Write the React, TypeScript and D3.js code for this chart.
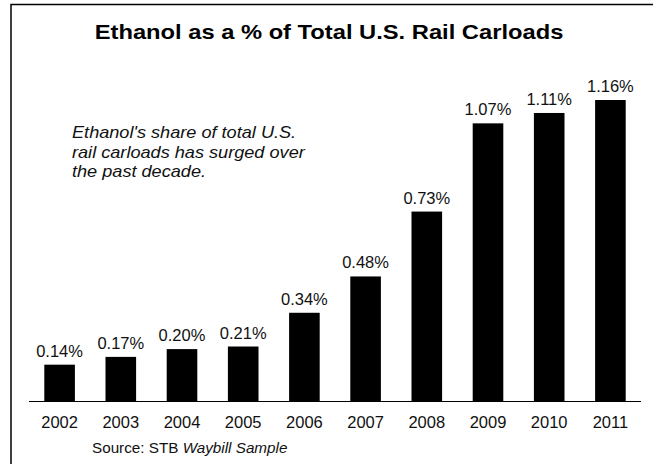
import React from "react";
import * as d3 from "d3";

const years = ["2002", "2003", "2004", "2005", "2006", "2007", "2008", "2009", "2010", "2011"];
const shares = [0.14, 0.17, 0.2, 0.21, 0.34, 0.48, 0.73, 1.07, 1.11, 1.16];
const valueLabels = ["0.14%", "0.17%", "0.20%", "0.21%", "0.34%", "0.48%", "0.73%", "1.07%", "1.11%", "1.16%"];
const titleText = "Ethanol as a % of Total U.S. Rail Carloads";
const noteLines = ["Ethanol's share of total U.S.", "rail carloads has surged over", "the past decade."];

const W = 653;
const H = 464;
const FONT = "'Liberation Sans', Arial, Helvetica, sans-serif";

export default function App() {
  const x = d3.scaleBand<string>().domain(years).range([29, 641]).paddingInner(0.5).paddingOuter(0.25);
  const y = d3.scaleLinear().domain([0, 1.16]).range([401, 100]);

  return (
    <svg width={W} height={H} style={{ position: "absolute", left: 0, top: 0, background: "#fff" }} fontFamily={FONT}>
      <rect x={11} y={4.5} width={W + 20} height={H + 20} fill="none" stroke="#000" strokeWidth={1.5} />
      <text transform="translate(329,39) scale(1.13,1)" textAnchor="middle" fontSize={21} fontWeight="bold" fill="#000">
        {titleText}
      </text>
      {noteLines.map((t, i) => (
        <text key={i} transform={`translate(72,${138 + i * 19.5}) scale(1.08,1)`} fontSize={16.8} fontStyle="italic" fill="#111">
          {t}
        </text>
      ))}
      {years.map((yr, i) => (
        <g key={yr}>
          <rect x={x(yr)} y={y(shares[i])} width={x.bandwidth()} height={y(0) - y(shares[i])} fill="#000" />
          <text x={(x(yr) as number) + x.bandwidth() / 2} y={y(shares[i]) - 8} textAnchor="middle" fontSize={16.5} fill="#111">
            {valueLabels[i]}
          </text>
          <text x={(x(yr) as number) + x.bandwidth() / 2} y={428} textAnchor="middle" fontSize={16.5} fill="#111">
            {yr}
          </text>
        </g>
      ))}
      <line x1={29} x2={641} y1={401.5} y2={401.5} stroke="#000" strokeWidth={1} />
      <text transform="translate(92,453) scale(1.09,1)" fontSize={14} fill="#111">
        <tspan>Source: STB </tspan>
        <tspan fontStyle="italic">Waybill Sample</tspan>
      </text>
    </svg>
  );
}
